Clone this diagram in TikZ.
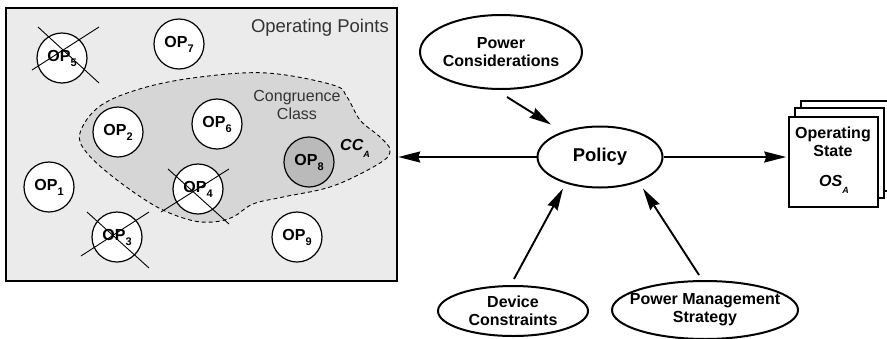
\documentclass[tikz,border=0pt]{standalone}
\usepackage{fontspec}
\setmainfont{Liberation Sans}
\usetikzlibrary{shapes.geometric,arrows.meta,calc}
\tikzset{
  opc/.style={circle,draw=black,line width=1.2pt,fill=white,minimum size=50pt,inner sep=0pt,font=\fontsize{16}{18}\selectfont\bfseries},
  ell/.style={ellipse,draw=black,line width=2pt,fill=white,inner sep=0pt},
  elltxt/.style={align=center,font=\fontsize{16}{18}\selectfont\bfseries,inner sep=0pt},
  xline/.style={line width=0.9pt},
  arr/.style={line width=1.9pt,-{Stealth[length=22pt,width=11pt,inset=2pt]}},
  osbox/.style={rectangle,draw=black,line width=1.5pt,fill=white,minimum width=89pt,minimum height=90pt,inner sep=0pt}
}
\newcommand{\opl}[1]{OP\raisebox{-5pt}{\fontsize{11}{11}\selectfont #1}}
\begin{document}
\begin{tikzpicture}[x=1pt,y=-1pt]
\useasboundingbox (0,0) rectangle (887,338);
% operating points box
\node[rectangle,draw=black,line width=2.5pt,fill=black!8,minimum width=391pt,minimum height=273pt,inner sep=0pt] (opbox) at (201.5,144.5) {};
\node[anchor=east,font=\fontsize{18.5}{20}\selectfont,text=black!80,inner sep=0pt] (optitle) at (389,28) {Operating Points};
% congruence class blob
\draw[fill=black!16,line width=0.9pt,dash pattern=on 4pt off 3pt] plot[smooth cycle,tension=0.6] coordinates {
 (80,133) (100,106) (143,88) (200,77) (267,73) (333,85) (347,97) (360,120) (380,137) (390,150)
 (380,163) (333,186) (283,197) (253,204) (233,217) (213,222) (190,220) (157,207) (117,180) (87,153)};
\node[align=center,font=\fontsize{16}{17.5}\selectfont,text=black!80,inner sep=0pt] (cctxt) at (297,105) {Congruence\\Class};
\node[font=\fontsize{16}{18}\selectfont\bfseries\itshape,inner sep=0pt] (cca) at (355,148) {CC\raisebox{-7pt}{\fontsize{9}{9}\selectfont A}};
% operating points
\node[opc] (op5) at (62,58) {\opl{5}};
\node[opc] (op7) at (179,44) {\opl{7}};
\node[opc] (op2) at (118,132) {\opl{2}};
\node[opc] (op6) at (217,124) {\opl{6}};
\node[opc,fill=black!27] (op8) at (309,162) {\opl{8}};
\node[opc] (op1) at (49,187) {\opl{1}};
\node[opc] (op4) at (198,189) {\opl{4}};
\node[opc] (op3) at (117,237) {\opl{3}};
\node[opc] (op9) at (297,237) {\opl{9}};
% crosses
\draw[xline] ($(op5)+(-24,-31)$) -- ($(op5)+(37,25)$);
\draw[xline] ($(op5)+(-30,12)$) -- ($(op5)+(37,-31)$);
\draw[xline] ($(op4)+(-30,-20)$) -- ($(op4)+(31,35)$);
\draw[xline] ($(op4)+(-37,23)$) -- ($(op4)+(31,-20)$);
\draw[xline] ($(op3)+(-30,-25)$) -- ($(op3)+(32,31)$);
\draw[xline] ($(op3)+(-36,19)$) -- ($(op3)+(32,-25)$);
% ellipses
\node[ell,minimum width=162pt,minimum height=74pt,label={[elltxt]center:Power\\Considerations}] (pc) at (501,52) {};
\node[ell,minimum width=125pt,minimum height=61pt,label={[elltxt,font=\fontsize{18.5}{20}\selectfont\bfseries]center:Policy}] (pol) at (600,157) {};
\node[ell,minimum width=150pt,minimum height=50pt,label={[elltxt]center:Device\\Constraints}] (dc) at (513,311) {};
\node[ell,minimum width=186pt,minimum height=58pt,label={[elltxt]center:Power Management\\Strategy}] (pms) at (705,310) {};
% operating state stack
\node[osbox] (os3) at (845.5,146) {};
\node[osbox] (os2) at (839.5,153) {};
\node[osbox] (os) at (833.5,162) {};
\node[elltxt] (ostxt) at (833,142) {Operating\\State};
\node[elltxt,font=\fontsize{16}{18}\selectfont\bfseries\itshape] (osa) at (834,184) {OS\raisebox{-7pt}{\fontsize{9}{9}\selectfont A}};
% arrows
\draw[arr] ($(pc.south)+(6,7)$) -- ($(pol.north)+(-49,-1)$);
\draw[arr] ($(dc.north)+(1,-6)$) -- ($(pol.south)+(-37,0)$);
\draw[arr] ($(pms.north)+(-6,-5)$) -- ($(pol.south)+(43,0)$);
\draw[arr] (pol.west) -- (pol.west -| opbox.east);
\draw[arr] (pol.east) -- ($(pol.east -| os.west)+(-2,0)$);
\end{tikzpicture}
\end{document}
